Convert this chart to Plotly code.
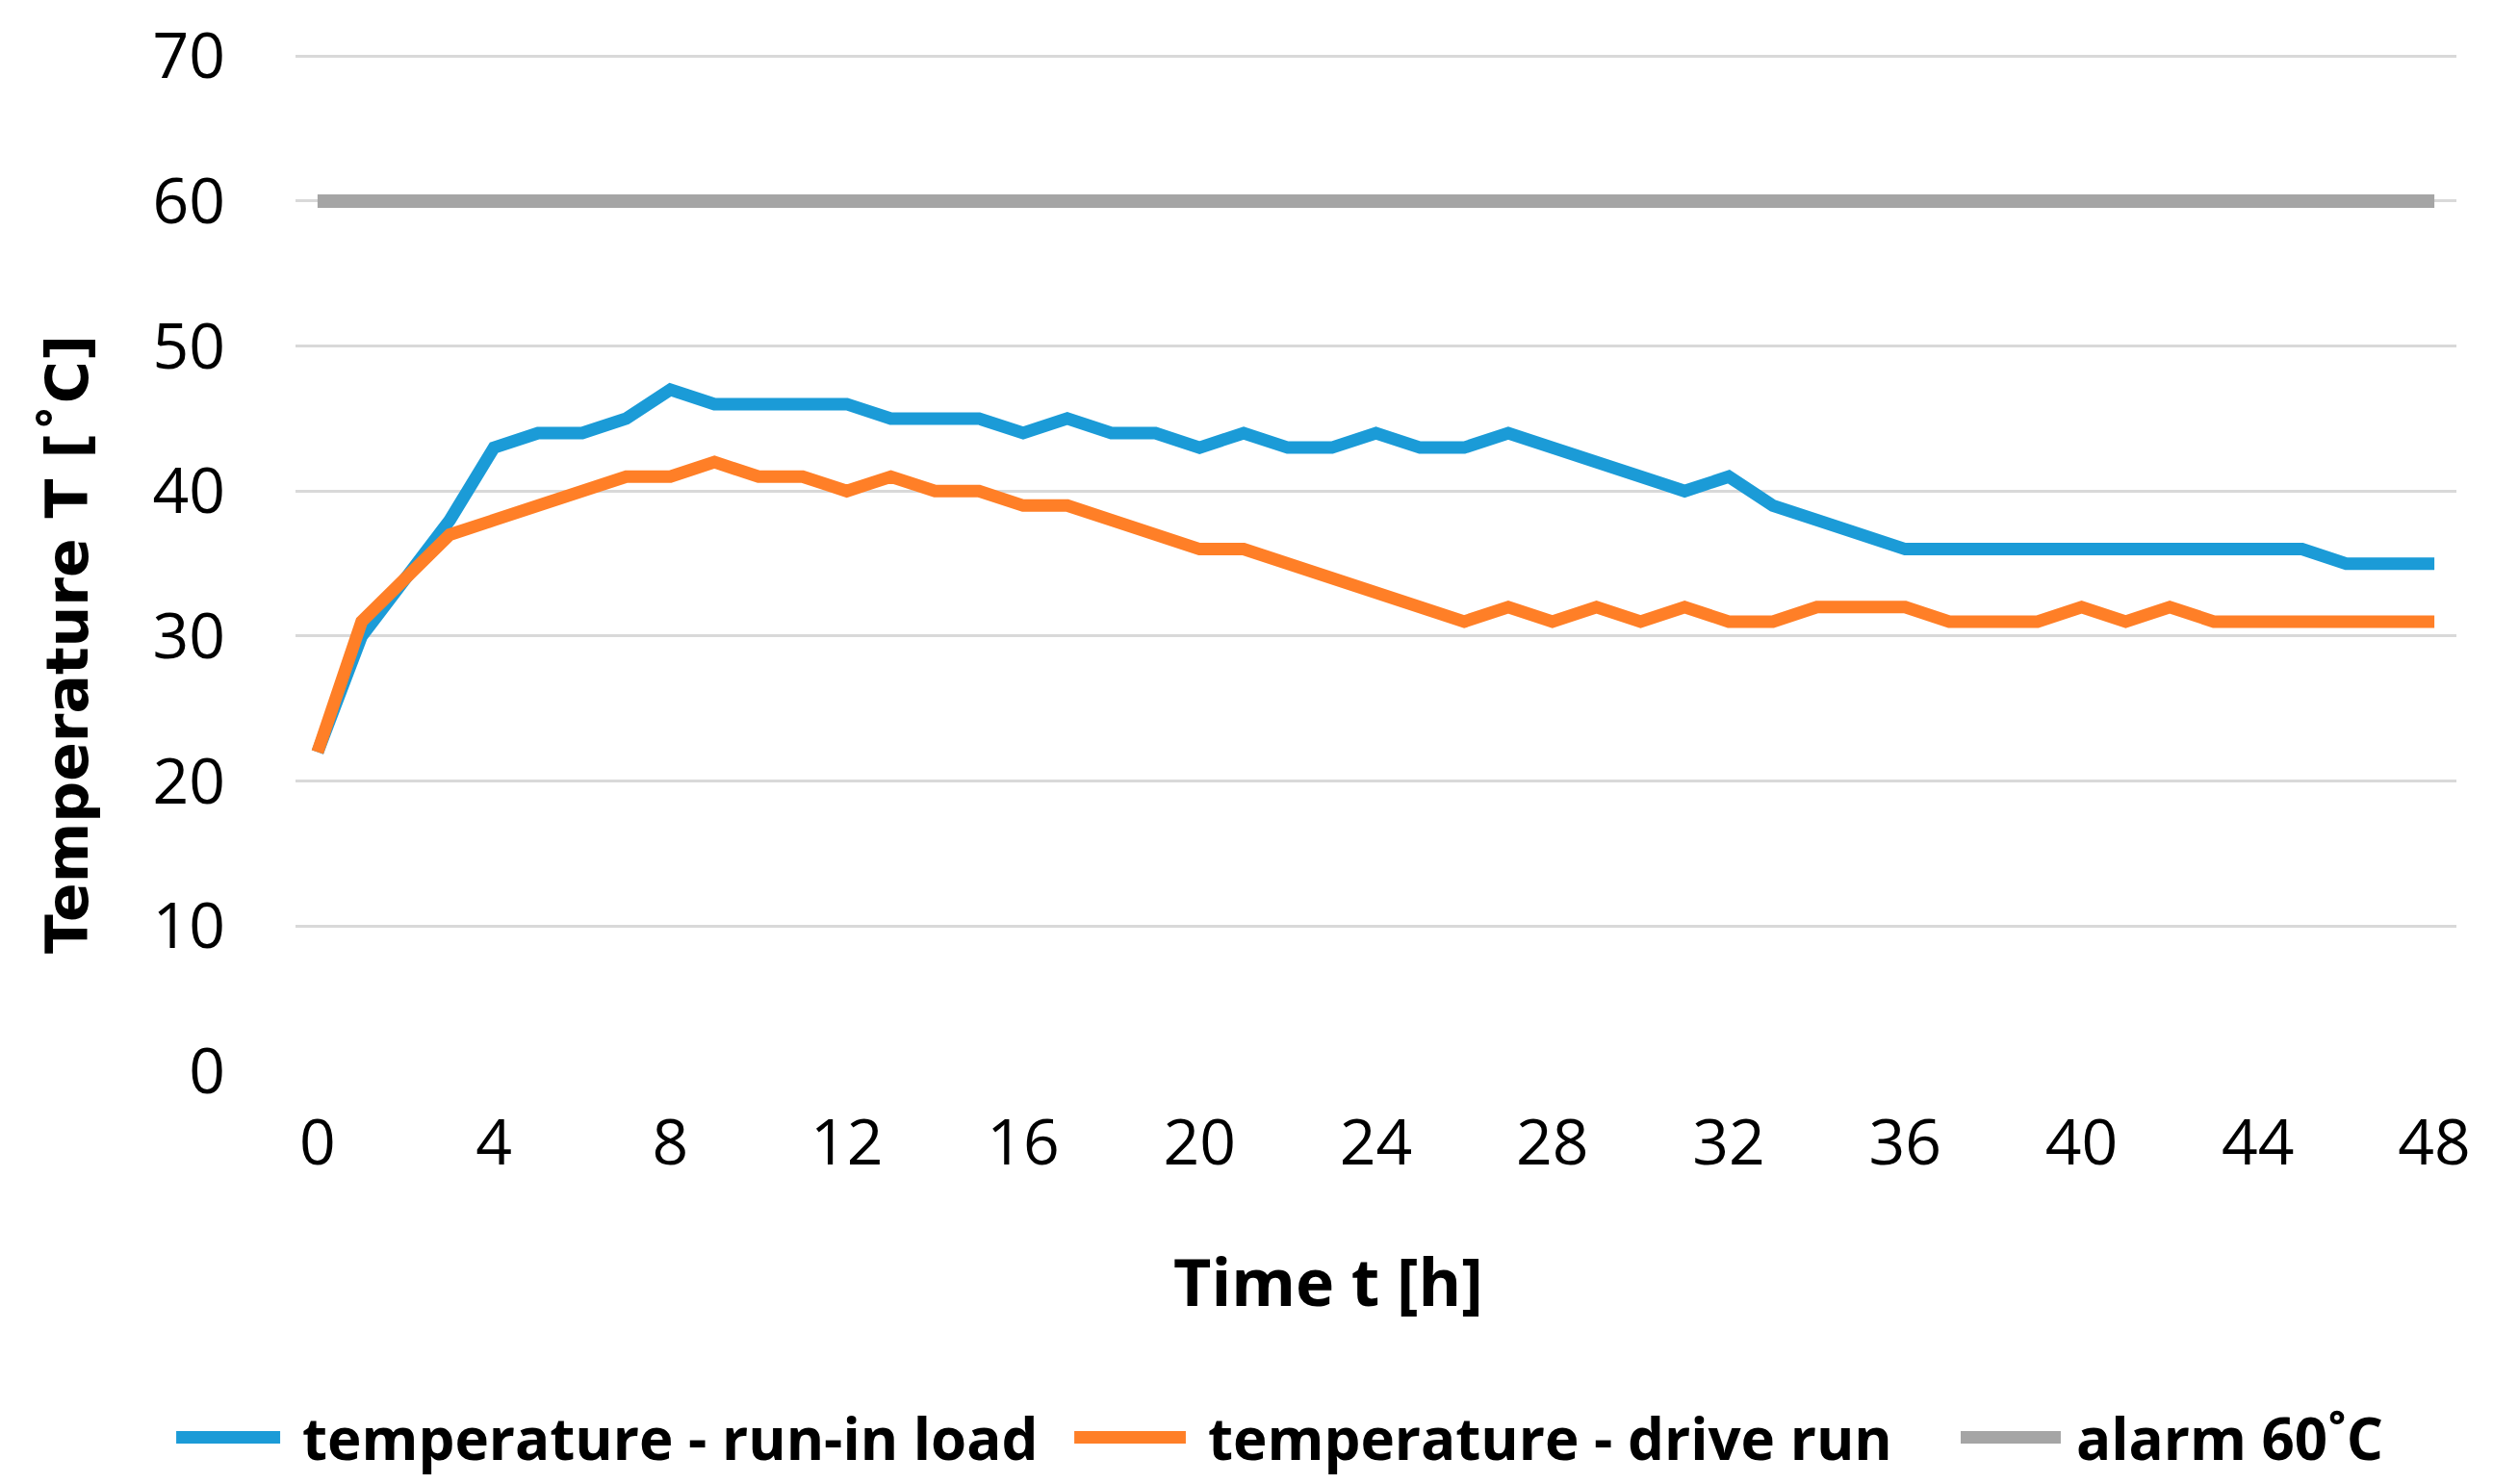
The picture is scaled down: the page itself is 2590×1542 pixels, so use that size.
import plotly.graph_objects as go

hours = list(range(0, 49))

run_in_load = [22, 30, 34, 38, 43, 44, 44, 45, 47, 46, 46, 46, 46, 45, 45, 45, 44, 45, 44, 44,
               43, 44, 43, 43, 44, 43, 43, 44, 43, 42, 41, 40, 41, 39, 38, 37, 36, 36, 36, 36,
               36, 36, 36, 36, 36, 36, 35, 35, 35]

drive_run = [22, 31, 34, 37, 38, 39, 40, 41, 41, 42, 41, 41, 40, 41, 40, 40, 39, 39, 38, 37,
             36, 36, 35, 34, 33, 32, 31, 32, 31, 32, 31, 32, 31, 31, 32, 32, 32, 31, 31, 31,
             32, 31, 32, 31, 31, 31, 31, 31, 31]

alarm = [60] * 49

x_ticks = list(range(0, 49, 4))
y_ticks = list(range(0, 71, 10))

names = ["temperature - run-in load", "temperature - drive run", "alarm 60˚C"]
colors = ["#1B9BD7", "#FF7F27", "#A5A5A5"]
widths = [13, 13, 14]
series = [run_in_load, drive_run, alarm]

x_title = "Time t [h]"
y_title = "Temperature T [˚C]"

fig = go.Figure()
for name, color, w, vals in zip(names, colors, widths, series):
    fig.add_trace(go.Scatter(x=hours, y=vals, mode="lines", name=name,
                             line=dict(color=color, width=w), showlegend=False))

tick_font = dict(family="Open Sans", size=66, color="#000000")

# custom legend (long line swatches like the original)
legend_y = -0.36
swatch_x = [(-0.0552, -0.0071), (0.3604, 0.4120), (0.7706, 0.8169)]
text_x = [0.0022, 0.4214, 0.8232]
shapes = []
annotations = []
for (x0, x1), tx, name, color in zip(swatch_x, text_x, names, colors):
    shapes.append(dict(type="line", xref="paper", yref="paper", x0=x0, x1=x1,
                       y0=legend_y, y1=legend_y, line=dict(color=color, width=13)))
    annotations.append(dict(xref="paper", yref="paper", x=tx, y=legend_y, xanchor="left",
                            yanchor="middle", showarrow=False, text="<b>" + name + "</b>",
                            font=dict(family="Open Sans", size=60, color="#000000")))

annotations.append(dict(xref="paper", yref="paper", x=0.478, y=-0.206, xanchor="center",
                        yanchor="middle", showarrow=False, text="<b>" + x_title + "</b>",
                        font=dict(family="Open Sans", size=68, color="#000000")))
annotations.append(dict(xref="paper", yref="paper", x=-0.1056, y=0.42, xanchor="center",
                        yanchor="middle", showarrow=False, textangle=-90,
                        text="<b>" + y_title + "</b>",
                        font=dict(family="DejaVu Sans", size=60, color="#000000")))

fig.update_layout(
    width=2590, height=1542,
    paper_bgcolor="white", plot_bgcolor="white",
    margin=dict(l=299, r=46, t=48, b=437, autoexpand=False),
    showlegend=False,
    shapes=shapes,
    annotations=annotations,
    xaxis=dict(range=[-0.5, 48.5], tickmode="array", tickvals=x_ticks,
               ticktext=[str(v) for v in x_ticks], showgrid=False, zeroline=False,
               showline=False, ticks="", tickfont=tick_font, ticklabelstandoff=30,
               ticklabeloverflow="allow", automargin=False),
    yaxis=dict(range=[0, 70.15], tickmode="array", tickvals=y_ticks,
               ticktext=[str(v) for v in y_ticks], showgrid=True, gridcolor="#D9D9D9",
               gridwidth=3, zeroline=False, showline=False, ticks="", tickfont=tick_font,
               ticklabelstandoff=72, ticklabeloverflow="allow", automargin=False),
)

fig.write_html("out.html")
